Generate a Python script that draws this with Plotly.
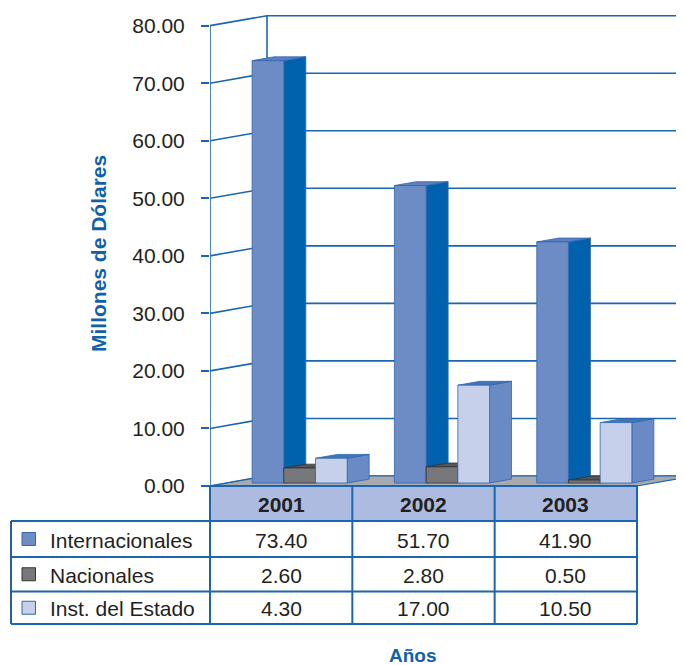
import plotly.graph_objects as go

# ---------------- data ----------------
years = ["2001", "2002", "2003"]
series_names = ["Internacionales", "Nacionales", "Inst. del Estado"]
internacionales = [73.40, 51.70, 41.90]
nacionales = [2.60, 2.80, 0.50]
inst_estado = [4.30, 17.00, 10.50]
y_ticks = [0, 10, 20, 30, 40, 50, 60, 70, 80]
y_title = "Millones de Dólares"
x_title = "Años"

series_values = [internacionales, nacionales, inst_estado]

# ---------------- styling / geometry ----------------
OFF = 8                      # page body margin of the html page
SCREEN_W, SCREEN_H = 684, 665
W, H = SCREEN_W - OFF, SCREEN_H - OFF

X0_S = 210.0         # screen x of the front value axis
CAT_PX = 142.33      # pixel width of one category
Y0_S = 486.0         # screen y of value 0 (front plane)
PX_PER_UNIT = 5.754  # pixels per value unit

X0 = X0_S - OFF
Y0 = Y0_S - OFF
XMAX = (W - X0) / CAT_PX
YMIN = -(H - Y0) / PX_PER_UNIT
YMAX = Y0 / PX_PER_UNIT

DX = 57.0 / CAT_PX       # full depth shift in x units
DY = 10.0 / PX_PER_UNIT  # full depth shift in value units
F0, F1 = 0.30, 0.686     # front / back depth fraction of bars
BW = 31.7 / CAT_PX       # bar width
GOFF = 25.0 / CAT_PX     # group left offset

BLUE = "#1a66b2"
TXT = "#231f20"
TITLE_BLUE = "#1060ab"
FONT = "Liberation Sans, Arial, sans-serif"
FS = 21

face_colors = [
    dict(front="#6d8bc5", side="#0061ad", top="#5b7fc0", edge="#2f67b0"),
    dict(front="#77787b", side="#4d4e50", top="#55565a", edge="#333335"),
    dict(front="#c6d0ea", side="#6a8ac6", top="#4274ba", edge="#2f67b0"),
]

fig = go.Figure()


def poly(xs, ys, fill, line, width=1.0):
    fig.add_trace(go.Scatter(
        x=list(xs) + [xs[0]], y=list(ys) + [ys[0]], mode="lines", fill="toself",
        fillcolor=fill, line=dict(color=line, width=width),
        hoverinfo="skip", showlegend=False))


def line(xs, ys, color=BLUE, width=1.6):
    fig.add_trace(go.Scatter(x=xs, y=ys, mode="lines",
                             line=dict(color=color, width=width),
                             hoverinfo="skip", showlegend=False))


# back wall grid + front axis
line([0, 0], [0, y_ticks[-1]])
line([DX, DX], [DY, y_ticks[-1] + DY])
for v in y_ticks:
    line([0, DX, XMAX + 0.1], [v, v + DY, v + DY])

# floor
n = len(years)
poly([0, n, n + DX, DX], [0, 0, DY, DY], "#a7a9ac", BLUE, 1.2)

# 3D bars
sdx = (F1 - F0) * DX
sdy = (F1 - F0) * DY
for k in range(n):
    for j, vals in enumerate(series_values):
        v = vals[k]
        c = face_colors[j]
        xl = k + GOFF + j * BW + F0 * DX
        xr = xl + BW
        b = F0 * DY
        t = v + F0 * DY
        poly([xr, xr + sdx, xr + sdx, xr], [b, b + sdy, t + sdy, t], c["side"], c["edge"], 0.8)
        poly([xl, xr, xr + sdx, xl + sdx], [t, t, t + sdy, t + sdy], c["top"], c["edge"], 0.8)
        poly([xl, xr, xr, xl], [b, b, t, t], c["front"], c["edge"], 0.8)


# ---------------- table (layout shapes + text) ----------------
def px(xs):
    return (xs - OFF) / W


def py(ys):
    return 1 - (ys - OFF) / H


col_s = [X0_S + i * CAT_PX for i in range(n + 1)]
LEFT_S = 11
head_top, head_bot = 486, 521
row_edges = [521, 557, 591.5, 624]

shapes = []
shapes.append(dict(type="rect", xref="paper", yref="paper",
                   x0=px(col_s[0]), x1=px(col_s[-1]), y0=py(head_bot), y1=py(head_top),
                   fillcolor="#adbbe0", line=dict(color=BLUE, width=2), layer="above"))
for yy in row_edges:
    shapes.append(dict(type="line", xref="paper", yref="paper",
                       x0=px(LEFT_S), x1=px(col_s[-1]), y0=py(yy), y1=py(yy),
                       line=dict(color=BLUE, width=2)))
shapes.append(dict(type="line", xref="paper", yref="paper",
                   x0=px(LEFT_S), x1=px(LEFT_S), y0=py(row_edges[0]), y1=py(row_edges[-1]),
                   line=dict(color="#2b5b9c", width=2)))
for cx in col_s:
    shapes.append(dict(type="line", xref="paper", yref="paper",
                       x0=px(cx), x1=px(cx), y0=py(head_top), y1=py(row_edges[-1]),
                       line=dict(color=BLUE, width=2)))

annotations = []
for k, yr in enumerate(years):
    annotations.append(dict(xref="paper", yref="paper",
                            x=px((col_s[k] + col_s[k + 1]) / 2), y=py((head_top + head_bot) / 2 + 1),
                            xanchor="center", yanchor="middle",
                            text="<b>%s</b>" % yr, showarrow=False,
                            font=dict(family=FONT, size=FS, color=TXT)))

for j, name in enumerate(series_names):
    yc = (row_edges[j] + row_edges[j + 1]) / 2
    shapes.append(dict(type="rect", xref="paper", yref="paper",
                       x0=px(22), x1=px(35.5), y0=py(yc + 6.5), y1=py(yc - 6.5),
                       fillcolor=face_colors[j]["front"],
                       line=dict(color=face_colors[j]["edge"], width=1)))
    annotations.append(dict(xref="paper", yref="paper", x=px(48), y=py(yc + 1),
                            xanchor="left", yanchor="middle", text=name, showarrow=False,
                            font=dict(family=FONT, size=FS, color=TXT)))
    for k in range(n):
        annotations.append(dict(xref="paper", yref="paper",
                                x=px((col_s[k] + col_s[k + 1]) / 2), y=py(yc + 1),
                                xanchor="center", yanchor="middle",
                                text="%.2f" % series_values[j][k], showarrow=False,
                                font=dict(family=FONT, size=FS, color=TXT)))

annotations.append(dict(xref="paper", yref="paper", x=px(98), y=py(254),
                        xanchor="center", yanchor="middle",
                        text="<b>%s</b>" % y_title, textangle=-90, showarrow=False,
                        font=dict(family=FONT, size=FS, color=TITLE_BLUE)))
annotations.append(dict(xref="paper", yref="paper", x=px(413), y=py(655),
                        xanchor="center", yanchor="middle",
                        text="<b>%s</b>" % x_title, showarrow=False,
                        font=dict(family=FONT, size=19, color=TITLE_BLUE)))

fig.update_layout(
    width=W, height=H,
    margin=dict(l=0, r=0, t=0, b=0),
    paper_bgcolor="white", plot_bgcolor="white",
    xaxis=dict(domain=[X0 / W, 1], range=[0, XMAX], visible=False, fixedrange=True),
    yaxis=dict(domain=[0, 1], range=[YMIN, YMAX], showgrid=False, zeroline=False,
               showline=False, tickvals=y_ticks, tickformat=".2f",
               ticks="outside", ticklen=8, tickwidth=1.6, tickcolor=BLUE,
               ticklabelstandoff=12,
               tickfont=dict(family=FONT, size=FS, color=TXT), fixedrange=True),
    shapes=shapes, annotations=annotations,
)

fig.write_html("out.html")
